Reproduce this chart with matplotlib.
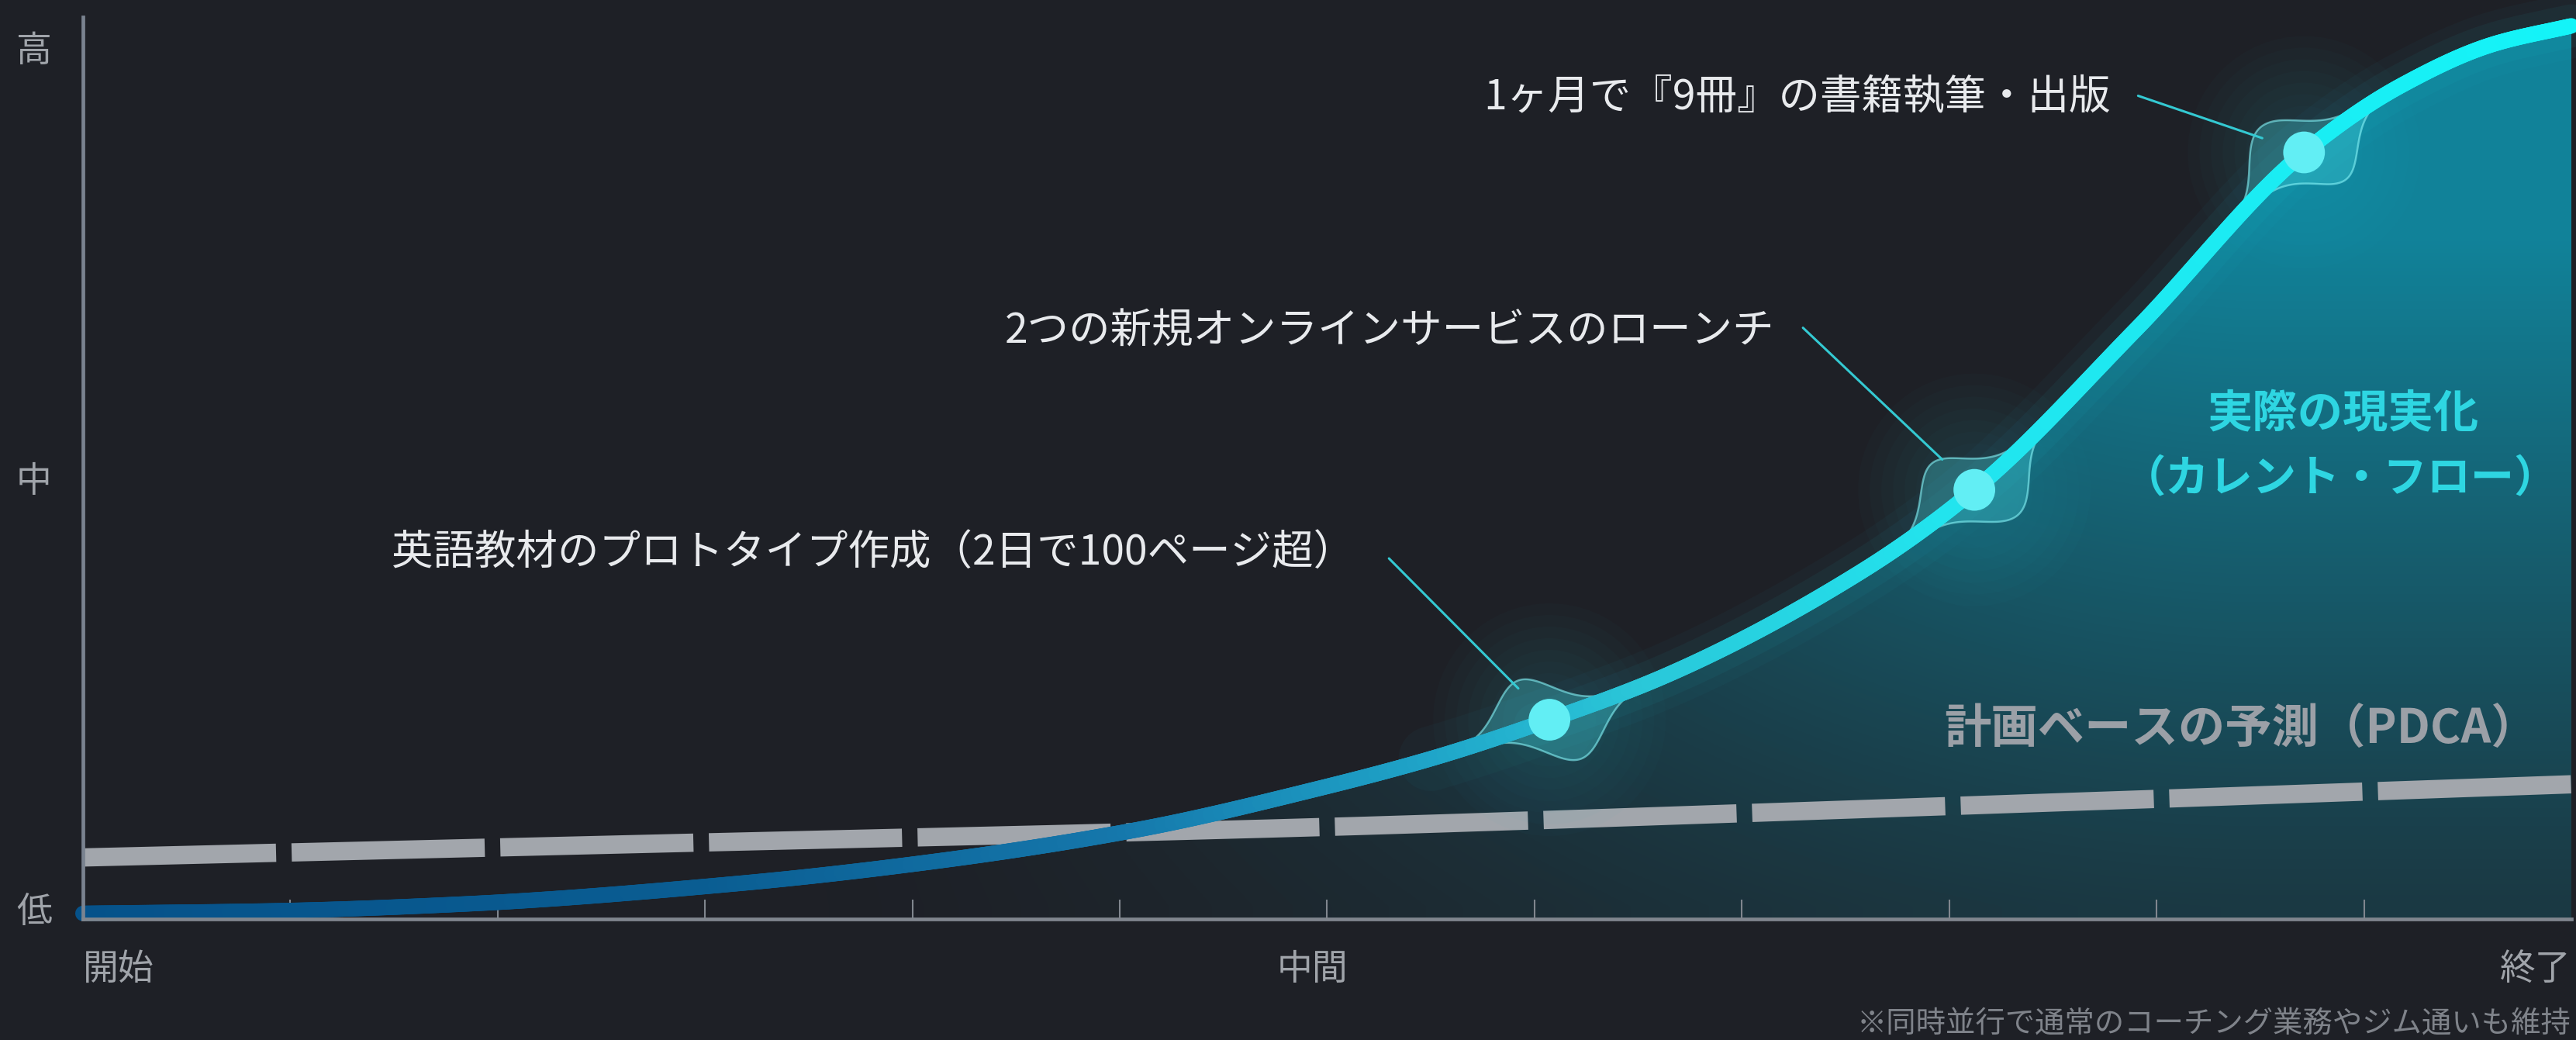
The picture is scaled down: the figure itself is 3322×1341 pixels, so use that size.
import numpy as np
import matplotlib
matplotlib.use("Agg")
import matplotlib.pyplot as plt
from matplotlib.collections import LineCollection
from matplotlib.colors import LinearSegmentedColormap
from matplotlib.patches import Polygon, Ellipse
from matplotlib.transforms import blended_transform_factory

plt.rcParams['font.family'] = ['Noto Sans CJK JP', 'DejaVu Sans']

# ---------------- data ----------------
actual_x = [0.0, 0.927, 1.844, 3.171, 4.125, 5.079, 5.957, 6.518, 7.072, 7.640,
            8.575, 9.121, 9.903, 10.711, 11.182, 11.627, 12.0]
actual_y = [-0.007, -0.004, 0.004, 0.028, 0.054, 0.090, 0.138, 0.174, 0.218,
            0.270, 0.390, 0.485, 0.672, 0.877, 0.955, 1.003, 1.024]

plan_x = [0.0, 2.22, 5.93, 8.20, 12.0]
plan_y = [0.058, 0.071, 0.093, 0.111, 0.143]

milestone_x = [7.072, 9.121, 10.711]
milestone_y = [0.218, 0.485, 0.877]
milestone_labels = [
    "英語教材のプロトタイプ作成（2日で100ページ超）",
    "2つの新規オンラインサービスのローンチ",
    "1ヶ月で『9冊』の書籍執筆・出版",
]

x_tick_pos = [0, 6, 12]
x_tick_labels = ["開始", "中間", "終了"]
y_tick_pos = [0.0, 0.5, 1.0]
y_tick_labels = ["低", "中", "高"]

actual_label = "実際の現実化"
actual_label2 = "（カレント・フロー）"
plan_label = "計画ベースの予測（PDCA）"
footnote = "※同時並行で通常のコーチング業務やジム通いも維持"

# ---------------- helpers ----------------
def pchip(x, y, xs):
    x = np.asarray(x, float); y = np.asarray(y, float); xs = np.asarray(xs, float)
    h = np.diff(x); d = np.diff(y) / h
    n = len(x); m = np.zeros(n)
    for k in range(1, n - 1):
        if d[k - 1] * d[k] > 0:
            w1 = 2 * h[k] + h[k - 1]; w2 = h[k] + 2 * h[k - 1]
            m[k] = (w1 + w2) / (w1 / d[k - 1] + w2 / d[k])
    m[0] = d[0]; m[-1] = d[-1]
    idx = np.clip(np.searchsorted(x, xs) - 1, 0, n - 2)
    t = (xs - x[idx]) / h[idx]
    h00 = 2 * t**3 - 3 * t**2 + 1
    h10 = t**3 - 2 * t**2 + t
    h01 = -2 * t**3 + 3 * t**2
    h11 = t**3 - t**2
    return h00 * y[idx] + h10 * h[idx] * m[idx] + h01 * y[idx + 1] + h11 * h[idx] * m[idx + 1]

# ---------------- figure ----------------
W, H = 3323, 1341
BG = '#1e2026'
fig = plt.figure(figsize=(W / 100, H / 100), dpi=100, facecolor=BG)
ax_l, ax_r, ax_b, ax_t = 107, 3316, 1185, 22
ax = fig.add_axes([ax_l / W, (H - ax_b) / H, (ax_r - ax_l) / W, (ax_b - ax_t) / H])
ax.set_facecolor(BG)
ymin, ymax = -0.0135, 1.0342
ax.set_xlim(0, 12)
ax.set_ylim(ymin, ymax)
sx = (ax_r - ax_l) / 12.0            # px per x unit
sy = (ax_b - ax_t) / (ymax - ymin)   # px per y unit

xs = np.linspace(0, 12, 1500)
ys = pchip(actual_x, actual_y, xs)

# ---------------- gradient fill ----------------
Nx, Ny = 700, 400
gx = np.linspace(0, 12, Nx)
gy = np.linspace(ymin, ymax, Ny)
GX, GY = np.meshgrid(gx, gy)
u = np.clip((GX - 3.0) / 7.5, 0, 1)
hf = u * u * (3 - 2 * u)
vy = np.clip(GY / 0.95, 0, 1)
wgt = np.clip((0.22 + 0.8 * vy ** 1.1) * hf, 0, 0.86)
rgba = np.zeros((Ny, Nx, 4))
rgba[..., 0] = 0.06
rgba[..., 1] = 0.58
rgba[..., 2] = 0.68
rgba[..., 3] = wgt
im = ax.imshow(rgba, extent=[0, 12, ymin, ymax], origin='lower', aspect='auto',
               interpolation='bilinear', zorder=1)
verts = np.column_stack([np.r_[xs, 12, 0], np.r_[ys, ymin, ymin]])
clip_poly = Polygon(verts, closed=True, transform=ax.transData, facecolor='none', edgecolor='none')
ax.add_patch(clip_poly)
im.set_clip_path(clip_poly)

# ---------------- planned (dashed) line ----------------
pxs = np.linspace(0, 12, 300)
pys = pchip(plan_x, plan_y, pxs)
ax.plot(pxs, pys, color='#a2a6ac', lw=17, dashes=(10.55, 0.85),
        dash_capstyle='butt', zorder=3, clip_on=False)

# ---------------- actual curve with gradient colour ----------------
cmap = LinearSegmentedColormap.from_list('flow', [
    (0.0, '#06528a'), (3 / 12, '#0a5d92'), (5 / 12, '#1577ab'),
    (6.5 / 12, '#1fa4c8'), (7.5 / 12, '#2ac6d8'), (9 / 12, '#22e4ee'),
    (1.0, '#14f4f8')])
pts = np.column_stack([xs, ys]).reshape(-1, 1, 2)
segs = np.concatenate([pts[:-1], pts[1:]], axis=1)
mid = 0.5 * (xs[:-1] + xs[1:]) / 12

# glow
for lw_g, a_g, x0 in [(60, 0.03, 6.5), (40, 0.05, 7.0)]:
    sel = xs >= x0
    ax.plot(xs[sel], ys[sel], color='#1fd6e6', lw=lw_g, alpha=a_g,
            solid_capstyle='round', zorder=3.5, clip_on=False)

lc = LineCollection(segs, colors=cmap(mid), linewidths=14.4, capstyle='round',
                    zorder=4, clip_on=False)
ax.add_collection(lc)

# curve geometry in pixel space (for lens shapes following the curve)
P = np.column_stack([xs * sx, ys * sy])
s_cum = np.r_[0, np.cumsum(np.hypot(*np.diff(P, axis=0).T))]
Tg = np.gradient(P, axis=0)
Tg /= np.hypot(Tg[:, 0], Tg[:, 1])[:, None]

# ---------------- milestones ----------------
label_offsets = [(-251, 216), (-258, 205), (-249, 71)]
leader_offsets = [(-207, 208), (-221, 209), (-214, 73)]
for (mx, my, lab, lo, ld) in zip(milestone_x, milestone_y, milestone_labels,
                                 label_offsets, leader_offsets):
    # soft radial glow
    for r in np.linspace(150, 60, 7):
        ax.add_patch(Ellipse((mx, my), 2 * r / sx, 2 * r / sy, facecolor='#1fc8da',
                             edgecolor='none', alpha=0.018, zorder=3.6))
    # lens shape following the curve
    L, Wd, s, a = 160.0, 56.0, 60.0, 28.0
    t = np.linspace(-L, L, 240)
    s_m = np.interp(mx, xs, s_cum)
    ss = s_m + t
    cx = np.interp(ss, s_cum, P[:, 0]); cy = np.interp(ss, s_cum, P[:, 1])
    tx = np.interp(ss, s_cum, Tg[:, 0]); ty = np.interp(ss, s_cum, Tg[:, 1])
    nn = np.hypot(tx, ty); tx /= nn; ty /= nn
    nx_, ny_ = -ty, tx
    taper = (1 - (t / L) ** 2) ** 2
    hu = Wd * np.exp(-((t + a) / s) ** 2) * taper + 8 * taper
    hl = Wd * np.exp(-((t - a) / s) ** 2) * taper + 8 * taper
    upx, upy = cx + hu * nx_, cy + hu * ny_
    lox, loy = (cx - hl * nx_)[::-1], (cy - hl * ny_)[::-1]
    lens = np.column_stack([np.r_[upx, lox] / sx, np.r_[upy, loy] / sy])
    ax.add_patch(Polygon(lens, closed=True, facecolor='#46d6e0', alpha=0.32,
                         edgecolor='none', zorder=3.8))
    ax.add_patch(Polygon(lens, closed=True, facecolor='none', edgecolor='#86f4f8',
                         alpha=0.6, lw=1.8, zorder=3.85))
    # leader line
    ax.annotate('', xy=(mx, my), xytext=ld, textcoords='offset pixels',
                arrowprops=dict(arrowstyle='-', color='#34c9d2', lw=2.2,
                                shrinkA=0, shrinkB=41), zorder=4.4)
    # label
    ax.annotate(lab, xy=(mx, my), xytext=lo, textcoords='offset pixels',
                ha='right', va='center', fontsize=38.5, color='#e8eaed', zorder=6)

ax.scatter(milestone_x, milestone_y, s=1500, color='#62eef4', edgecolors='none', zorder=5)

# ---------------- axes styling ----------------
for sp in ['top', 'right']:
    ax.spines[sp].set_visible(False)
ax.spines['left'].set_color('#7a8390')
ax.spines['left'].set_linewidth(3.4)
ax.spines['bottom'].set_color('#80868e')
ax.spines['bottom'].set_linewidth(3.4)
ax.spines['left'].set_zorder(7)
ax.spines['bottom'].set_zorder(7)

ax.set_xticks(np.arange(1, 12))
ax.set_xticklabels([''] * 11)
ax.tick_params(axis='x', direction='in', length=18, width=1.5, color='#80868e')
ax.set_yticks(y_tick_pos)
ax.set_yticklabels(y_tick_labels, fontsize=33, color='#a0a4aa')
ax.tick_params(axis='y', length=0, pad=29)

tr = blended_transform_factory(ax.transData, ax.transAxes)
ly = -(1250 - ax_b) / (ax_b - ax_t)
has = ['left', 'center', 'right']
xoffs = [0, -0.07, 0]
for xp, lab, ha, xo in zip(x_tick_pos, x_tick_labels, has, xoffs):
    ax.text(xp + xo, ly, lab, transform=tr, ha=ha, va='center', fontsize=33,
            color='#a0a4aa')

# ---------------- area labels ----------------
fig.text(3022 / W, 1 - 534 / H, actual_label, ha='center', va='center', fontsize=42,
         fontweight='bold', color='#2ed6e2')
fig.text(3018 / W, 1 - 618 / H, actual_label2, ha='center', va='center', fontsize=40.5,
         fontweight='bold', color='#2ed6e2')
fig.text(2890 / W, 1 - 941 / H, plan_label, ha='center', va='center', fontsize=43.5,
         fontweight='bold', color='#9ba0a7')
fig.text(3316 / W, 1 - 1320 / H, footnote, ha='right', va='center', fontsize=27.6,
         color='#7f838a')

fig.savefig('out.png', dpi=100, facecolor=BG)
